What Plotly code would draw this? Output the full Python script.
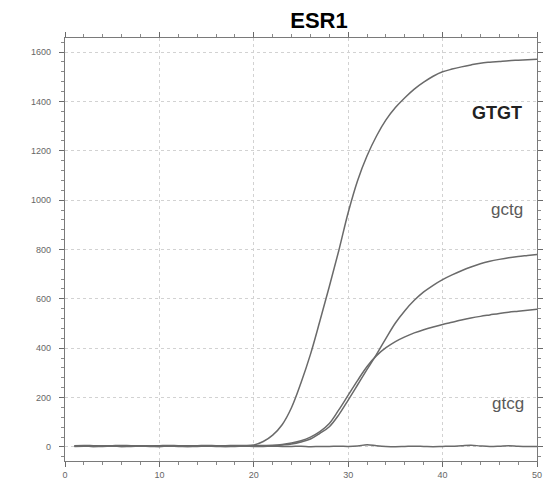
import plotly.graph_objects as go

cycles = list(range(1, 51))

gtgt = [5, 6, 5, 4, 5, 6, 5, 5, 4, 5, 6, 5, 5, 5, 6, 5, 5, 6, 6, 8,
        22, 48, 90, 160, 260, 375, 510, 650, 795, 950,
        1080, 1180, 1260, 1325, 1375, 1415, 1450, 1478, 1502, 1520,
        1531, 1540, 1548, 1555, 1559, 1562, 1565, 1567, 1569, 1571]

gctg = [3, 3, 2, 3, 3, 2, 3, 3, 3, 2, 3, 3, 2, 3, 3, 3, 2, 3, 3, 3,
        4, 5, 8, 12, 20, 32, 55, 82, 130, 190,
        252, 314, 375, 440, 502, 552, 594, 628, 655, 678,
        697, 714, 729, 742, 752, 760, 767, 772, 776, 780]

gtcg = [4, 4, 3, 4, 4, 4, 3, 4, 4, 4, 3, 4, 4, 4, 4, 3, 4, 4, 4, 5,
        6, 7, 10, 16, 25, 40, 62, 95, 150, 210,
        270, 326, 370, 402, 427, 446, 462, 475, 486, 496,
        505, 514, 522, 529, 535, 541, 546, 550, 554, 558]

neg = [2, 3, 2, 2, 3, 2, 2, 3, 2, 2, 3, 2, 2, 2, 3, 2, 2, 2, 3, 2,
       2, 3, 2, 2, 3, 1, 2, 2, 3, 2,
       4, 9, 5, 2, 1, 2, 3, 2, 1, 2,
       3, 5, 7, 4, 2, 3, 5, 3, 2, 2]

series = [("GTGT", gtgt), ("gctg", gctg), ("gtcg", gtcg), ("neg", neg)]

x_ticks = [0, 10, 20, 30, 40, 50]
y_ticks = [0, 200, 400, 600, 800, 1000, 1200, 1400, 1600]

labels = [("GTGT", 497, 113, True), ("gctg", 507, 210, False), ("gtcg", 508, 403, False)]

fig = go.Figure()
for name, vals in series:
    fig.add_trace(go.Scatter(x=cycles, y=vals, mode="lines", name=name,
                             line=dict(color="#6a6a6a", width=1.5, shape="spline", smoothing=1.0),
                             showlegend=False, hoverinfo="skip"))

W, H = 550, 479
L, R, T, B = 65, 13, 38, 18
pw, ph = W - L - R, H - T - B

for text, px, py, bold in labels:
    fig.add_annotation(
        x=(px - L) / pw, y=1 - (py - T) / ph, xref="paper", yref="paper",
        text=f"<b>{text}</b>" if bold else text, showarrow=False,
        font=dict(family="Liberation Sans, Arial, sans-serif",
                  size=18 if bold else 17,
                  color="#222222" if bold else "#5a5a5a"),
        xanchor="center", yanchor="middle")

axis_common = dict(
    showline=True, linecolor="#7a7a7a", linewidth=1.2,
    mirror="allticks", ticks="outside", ticklen=5, tickcolor="#6a6a6a",
    showgrid=True, gridcolor="#d2d2d2", griddash="dot", gridwidth=1,
    zeroline=False,
    tickfont=dict(family="Liberation Sans, Arial, sans-serif", size=9, color="#666666"),
)

fig.update_xaxes(range=[0, 50], tickvals=x_ticks, ticktext=[str(v) for v in x_ticks],
                 minor=dict(dtick=2, ticks="outside", ticklen=3, tickcolor="#888888",
                            showgrid=False),
                 **axis_common)
fig.update_yaxes(range=[-57, 1657], tickvals=y_ticks, ticktext=[str(v) for v in y_ticks],
                 minor=dict(dtick=40, ticks="outside", ticklen=3, tickcolor="#888888",
                            showgrid=False),
                 ticklabelstandoff=6,
                 **axis_common)

fig.update_layout(
    width=W, height=H,
    margin=dict(l=L, r=R, t=T, b=B, autoexpand=False),
    paper_bgcolor="white", plot_bgcolor="white",
    title=dict(text="<b>ESR1</b>", x=319 / W, xref="container",
               xanchor="center", y=1 - 20 / H, yref="container", yanchor="middle",
               font=dict(family="Liberation Sans, Arial, sans-serif", size=22, color="black")),
)

fig.write_html("out.html")
